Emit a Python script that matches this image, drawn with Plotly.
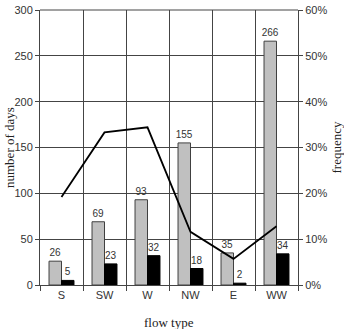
import plotly.graph_objects as go

categories = ["S", "SW", "W", "NW", "E", "WW"]
days_total = [26, 69, 93, 155, 35, 266]
days_sub = [5, 23, 32, 18, 2, 34]
frequency = [19.2, 33.3, 34.4, 11.6, 5.7, 12.8]

title_font = dict(family="Liberation Serif", size=13, color="#222")

fig = go.Figure()
fig.add_trace(go.Bar(x=categories, y=days_total, marker=dict(color="#c0c0c0", line=dict(color="#404040", width=1)),
                     text=days_total, textposition="outside", constraintext="none",
                     textfont=dict(size=10, color="#333", family="Liberation Sans"), cliponaxis=False))
fig.add_trace(go.Bar(x=categories, y=days_sub, marker=dict(color="#000000", line=dict(color="#000", width=1)),
                     text=days_sub, textposition="outside", constraintext="none",
                     textfont=dict(size=10, color="#333", family="Liberation Sans"), cliponaxis=False))
fig.add_trace(go.Scatter(x=categories, y=frequency, yaxis="y2", mode="lines", line=dict(color="#000", width=1.8)))

fig.update_layout(
    width=344, height=329, margin=dict(l=40, r=46, t=10, b=44),
    plot_bgcolor="white", paper_bgcolor="white", showlegend=False,
    barmode="group", bargap=0.42, bargroupgap=0,
    font=dict(family="Liberation Sans", size=11, color="#333"),
    xaxis=dict(type="category", tickson="boundaries", showgrid=True, gridcolor="#444", gridwidth=1,
               ticks="outside", ticklen=5, tickcolor="#444", showline=True, linecolor="#444",
               range=[-0.5, 5.5], automargin=False),
    yaxis=dict(range=[0, 300], dtick=50, showgrid=True, gridcolor="#444", ticks="outside", ticklen=4, tickcolor="#444",
               showline=True, linecolor="#444", zeroline=False, automargin=False),
    yaxis2=dict(range=[0, 60], dtick=10, overlaying="y", side="right", ticksuffix="%", showgrid=False,
                ticks="outside", ticklen=4, tickcolor="#444", showline=True, linecolor="#444", zeroline=False,
                automargin=False),
    annotations=[
        dict(text="flow type", xref="paper", yref="paper", x=0.5, y=0, yshift=-37, yanchor="middle",
             showarrow=False, font=title_font),
        dict(text="number of days", xref="paper", yref="paper", x=0, y=0.5, xshift=-21, xanchor="right",
             textangle=-90, showarrow=False, font=title_font),
        dict(text="frequency", xref="paper", yref="paper", x=1, y=0.5, xshift=38, xanchor="center",
             textangle=-90, showarrow=False, font=title_font),
    ],
)
fig.add_shape(type="line", xref="paper", yref="paper", x0=0, x1=1, y0=1, y1=1, line=dict(color="#444", width=1))
fig.write_html("out.html")
